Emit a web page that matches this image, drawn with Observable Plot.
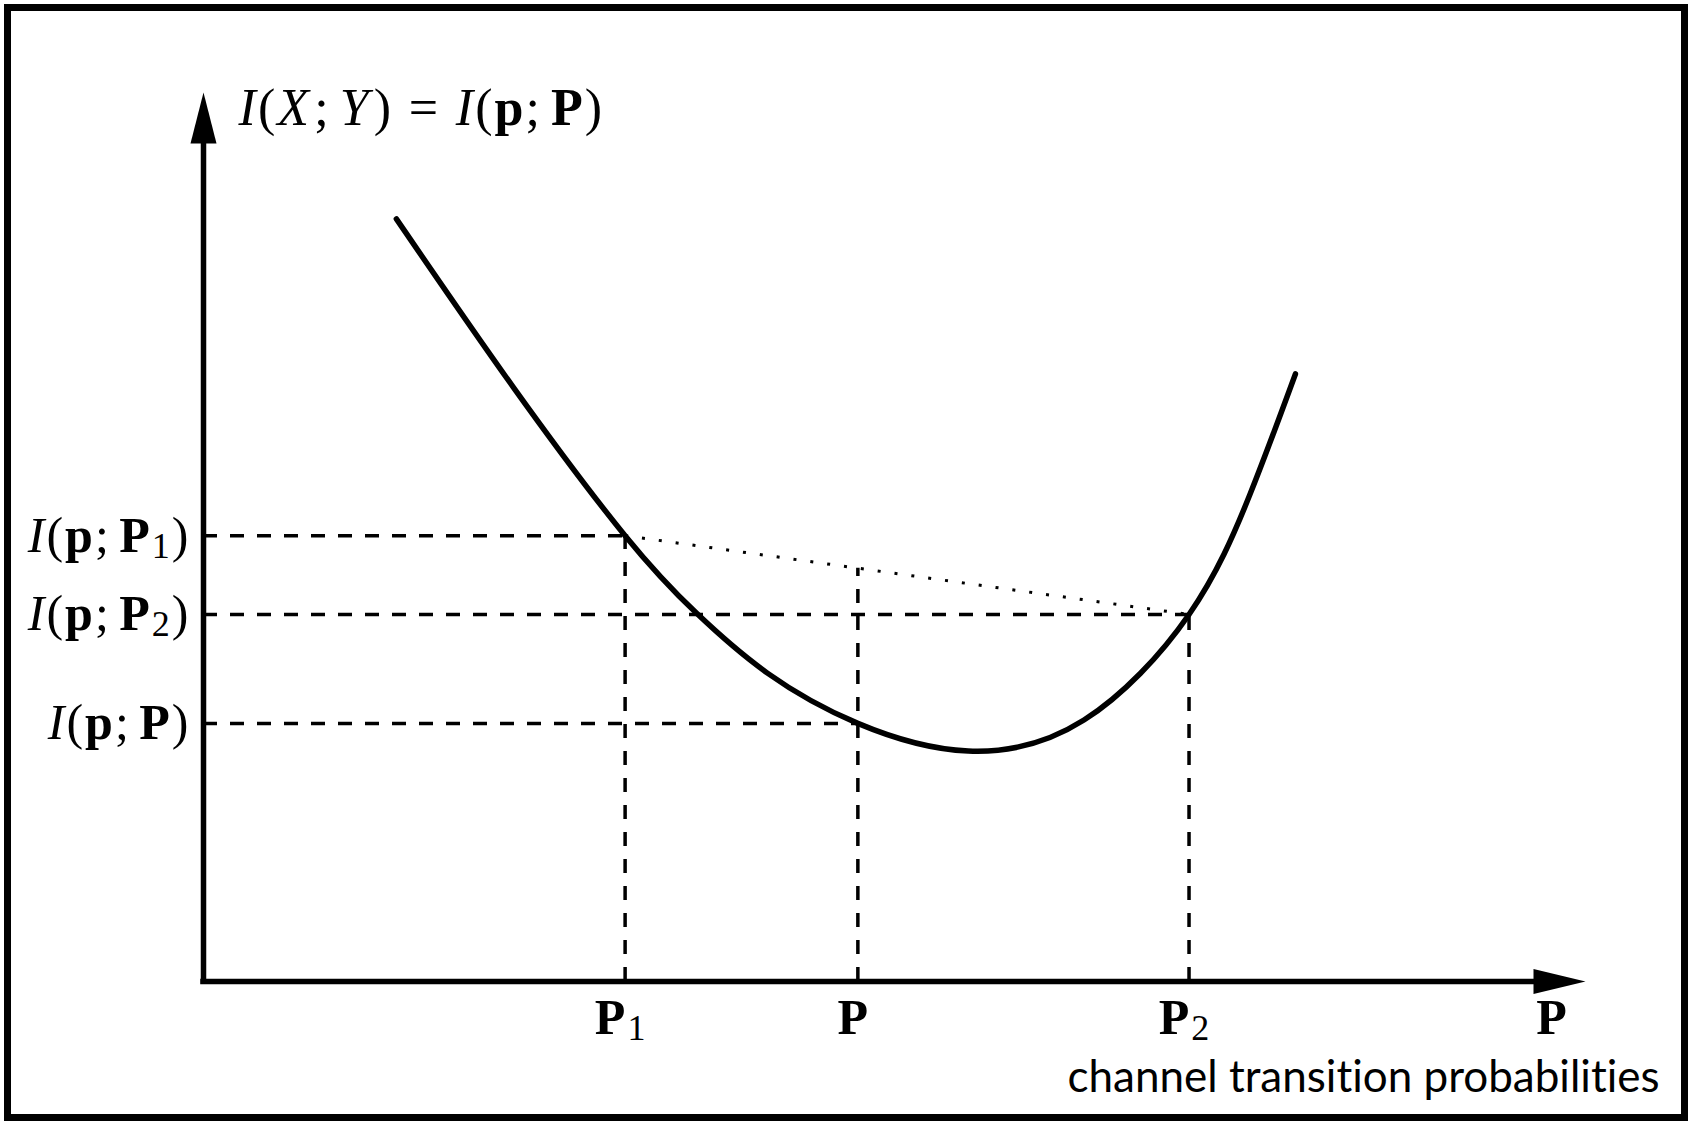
<!DOCTYPE html>
<html>
<head>
<meta charset="utf-8">
<script src="https://cdn.jsdelivr.net/npm/d3@7"></script>
<script src="https://cdn.jsdelivr.net/npm/@observablehq/plot@0.6"></script>
<style>
  html, body { margin: 0; padding: 0; background: #fff; overflow: hidden; }
  #chart { position: absolute; left: 0; top: 0; }
  #chart svg { display: block; }
  #chart text { font-variant-ligatures: none; }
  #box { position: absolute; left: 4px; top: 4px; width: 1684px; height: 1117px;
         border: 7px solid #000; box-sizing: border-box; pointer-events: none; }
</style>
</head>
<body>
<div id="chart"></div>
<div id="box"></div>
<script>
// Mutual information I(p;P) as a convex function of the channel transition matrix P.
// Abstract units: both axes run 0..100 from the origin to the base of the arrowheads.
const xMax = 100;
const yMax = 100;

// The convex curve, sampled along its length
const curveX = [14.5, 23.3, 31.7, 37.1, 42.4, 49.2, 57.5, 66.2, 74.1, 78.7, 82.1];
const curveY = [91.0, 70.9, 53.2, 43.9, 36.8, 30.8, 27.5, 31.2, 43.8, 58.2, 72.5];

// The three channels and the curve value at each
const channelNames = ["P_1", "P", "P_2"];
const channelX     = [31.7, 49.2, 74.1];
const infoY        = [53.2, 30.8, 43.8];
const infoNames    = ["I(p;P_1)", "I(p;P)", "I(p;P_2)"];

// Height of the chord between P1 and P2 above the point P
const chordAtP = 49.3;

const titleText   = "I(X;Y) = I(p;P)";
const axisXName   = "P";
const captionText = "channel transition probabilities";

const channels = channelNames.map((name, i) => ({name, x: channelX[i], y: infoY[i], info: infoNames[i]}));
const curve = curveX.map((x, i) => ({x, y: curveY[i]}));
const chord = [{x1: channelX[0], y1: infoY[0], x2: channelX[2], y2: infoY[2]}];
const verticalTops = [infoY[0], chordAtP, infoY[2]];

// Filled arrowheads for the axes (drawn from the base outward)
const headUp = {draw(ctx) { ctx.moveTo(0, -51); ctx.lineTo(13, 0); ctx.lineTo(-13, 0); ctx.closePath(); }};
const headRight = {draw(ctx) { ctx.moveTo(52, 0); ctx.lineTo(0, -12.5); ctx.lineTo(0, 12.5); ctx.closePath(); }};

const serif = "'Liberation Serif', 'Times New Roman', serif";
const labelSize = 50;
const titleSize = 52;
const dash = "14,13";

const plot = Plot.plot({
  width: 1698,
  height: 1127,
  marginLeft: 203,
  marginRight: 165,
  marginTop: 143,
  marginBottom: 146,
  style: {background: "white", color: "black", fontFamily: serif},
  x: {domain: [0, xMax], axis: null},
  y: {domain: [0, yMax], axis: null},
  marks: [
    // dashed guides from the axes to the curve
    Plot.ruleY(channels, {y: "y", x1: 0, x2: "x", stroke: "black", strokeWidth: 3.5, strokeDasharray: dash}),
    Plot.ruleX(channels, {x: "x", y1: 0, y2: (d, i) => verticalTops[i], stroke: "black", strokeWidth: 3.5, strokeDasharray: dash}),
    // dotted chord between P1 and P2
    Plot.link(chord, {x1: "x1", y1: "y1", x2: "x2", y2: "y2", stroke: "black", strokeWidth: 3, strokeDasharray: "3,14"}),
    // the curve
    Plot.line(curve, {x: "x", y: "y", curve: "natural", stroke: "black", strokeWidth: 5.5}),
    // axes with arrowheads
    Plot.ruleX([0], {y1: 0, y2: yMax, stroke: "black", strokeWidth: 5.5, strokeLinecap: "square"}),
    Plot.ruleY([0], {x1: 0, x2: xMax, stroke: "black", strokeWidth: 5.5, strokeLinecap: "square"}),
    Plot.dot([0], {x: 0, y: yMax, symbol: headUp, fill: "black", stroke: "none"}),
    Plot.dot([0], {x: xMax, y: 0, symbol: headRight, fill: "black", stroke: "none"}),
    // labels
    Plot.text(channels, {y: "y", text: "info", frameAnchor: "left", textAnchor: "end", lineAnchor: "middle",
      dx: -13, fontSize: labelSize, fontFamily: serif}),
    Plot.text(channels, {x: "x", text: "name", frameAnchor: "bottom", textAnchor: "middle", lineAnchor: "bottom",
      dx: -4, dy: 52, fontSize: labelSize, fontFamily: serif}),
    Plot.text([axisXName], {text: d => d, frameAnchor: "bottom-right", textAnchor: "middle", lineAnchor: "bottom",
      dx: 19, dy: 52, fontSize: labelSize, fontFamily: serif}),
    Plot.text([titleText], {text: d => d, frameAnchor: "top-left", textAnchor: "start", lineAnchor: "bottom",
      dx: 35, dy: -19, fontSize: titleSize, fontFamily: serif}),
    Plot.text([captionText], {text: d => d, frameAnchor: "bottom-right", textAnchor: "end", lineAnchor: "bottom",
      dx: 126, dy: 110, fontSize: 44, fontFamily: "Lato, 'Open Sans', sans-serif"})
  ]
});

document.getElementById("chart").appendChild(plot);

// Typeset the math labels: italic variables, bold vectors/matrices, lowered subscripts
const mathLabels = new Set([titleText, axisXName, ...channelNames, ...infoNames]);
const italic = new Set(["I", "X", "Y"]);
const bold = new Set(["p", "P"]);
const NS = "http://www.w3.org/2000/svg";

function typeset(node, size) {
  const src = node.textContent;
  node.textContent = "";
  node.setAttribute("letter-spacing", size * 0.04);
  let dy = 0, dx = 0;
  for (let i = 0; i < src.length; i++) {
    let ch = src[i];
    if (ch === " ") { dx += size * 0.3; continue; }
    const t = document.createElementNS(NS, "tspan");
    if (ch === "_") {
      ch = src[++i];
      const shift = size * 0.12;
      t.setAttribute("font-size", size * 0.72);
      t.setAttribute("dy", shift);
      if (dx) { t.setAttribute("dx", dx); dx = 0; }
      dy = -shift;
      t.textContent = ch;
      node.appendChild(t);
      continue;
    }
    if (dy) { t.setAttribute("dy", dy); dy = 0; }
    if (dx) { t.setAttribute("dx", dx); dx = 0; }
    if (italic.has(ch)) t.setAttribute("font-style", "italic");
    else if (bold.has(ch)) t.setAttribute("font-weight", "bold");
    t.textContent = ch;
    node.appendChild(t);
    if (ch === ";") dx += size * 0.17;
    if (ch === "X" || ch === "Y") dx += size * 0.06;
  }
}

d3.select(plot).selectAll("text").each(function () {
  if (!mathLabels.has(this.textContent)) return;
  const size = parseFloat(getComputedStyle(this).fontSize) || labelSize;
  typeset(this, size);
});
</script>
</body>
</html>
